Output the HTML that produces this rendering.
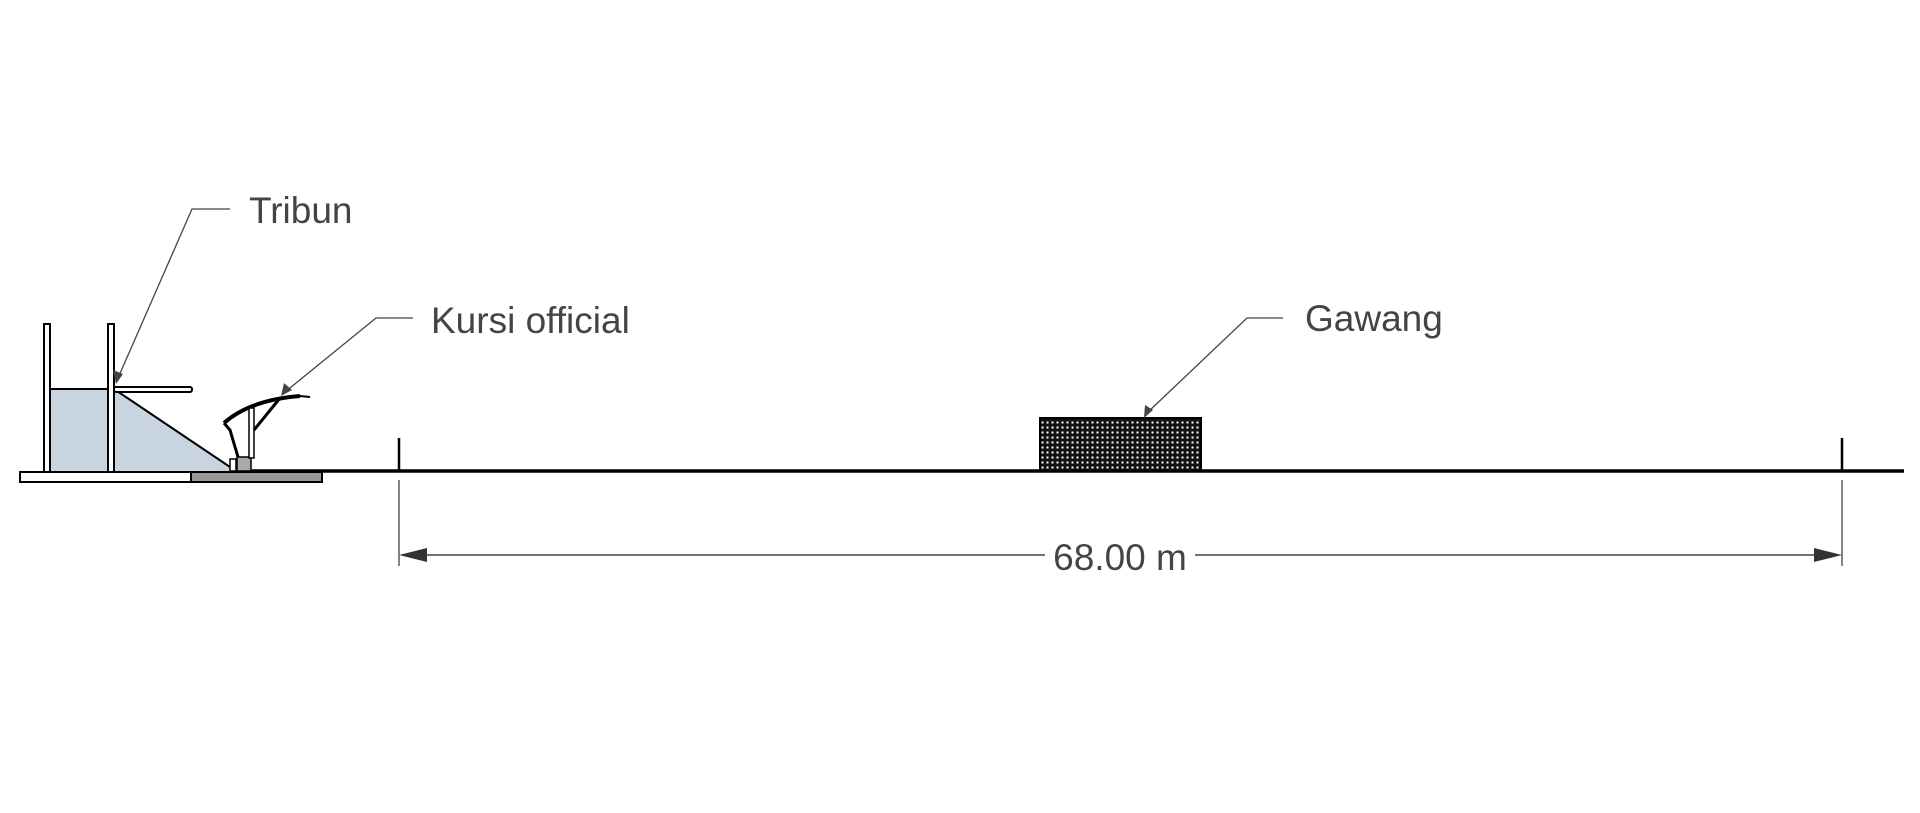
<!DOCTYPE html>
<html><head><meta charset="utf-8"><style>
html,body{margin:0;padding:0;background:#fff;}
svg{display:block;}
text{font-family:"Liberation Sans",sans-serif;fill:#444;}
</style></head><body>
<svg width="1920" height="813" viewBox="0 0 1920 813" xmlns="http://www.w3.org/2000/svg">
<defs>
<pattern id="net" width="5" height="5" patternUnits="userSpaceOnUse">
<rect width="5" height="5" fill="#111"/><rect x="1.5" y="1.5" width="2" height="2" fill="#fff"/>
</pattern>
</defs>
<!-- ground -->
<line x1="191" y1="471" x2="1904" y2="471" stroke="#000" stroke-width="3.5"/>
<!-- slab -->
<rect x="20" y="472" width="171" height="10" fill="#fff" stroke="#000" stroke-width="2"/>
<rect x="191" y="472" width="131" height="10" fill="#999" stroke="#000" stroke-width="2"/>
<!-- tribun fill -->
<path d="M49 389 L114 389 L230 467 L230 471 L49 471 Z" fill="#c8d4e0"/>
<line x1="114" y1="389" x2="230" y2="467" stroke="#000" stroke-width="2"/>
<line x1="49" y1="389" x2="114" y2="389" stroke="#000" stroke-width="2"/>
<!-- posts -->
<rect x="44" y="324" width="6" height="148" fill="#fff" stroke="#000" stroke-width="2"/>
<rect x="108" y="324" width="6" height="148" fill="#fff" stroke="#000" stroke-width="2"/>
<rect x="114" y="387" width="78" height="5" rx="2" fill="#fff" stroke="#000" stroke-width="2"/>
<!-- chair -->
<rect x="230" y="459" width="6" height="12" fill="#fff" stroke="#000" stroke-width="1.5"/>
<rect x="237" y="457" width="14" height="14" fill="#aaa" stroke="#000" stroke-width="1.5"/>
<path d="M224 423 Q250 400 300 396" fill="none" stroke="#000" stroke-width="4"/>
<path d="M300 396 L310 397" stroke="#000" stroke-width="2"/>
<path d="M224 423 L230 430 L238 457" fill="none" stroke="#000" stroke-width="3"/>
<rect x="249" y="408" width="5" height="50" fill="#fff" stroke="#000" stroke-width="1.5"/>
<line x1="254" y1="430" x2="280" y2="398" stroke="#000" stroke-width="3"/>
<!-- goal -->
<rect x="1040" y="418" width="161" height="53" fill="url(#net)" stroke="#000" stroke-width="2"/>
<!-- tick posts -->
<line x1="399" y1="438" x2="399" y2="471" stroke="#000" stroke-width="2.5"/>
<line x1="1842" y1="438" x2="1842" y2="471" stroke="#000" stroke-width="2.5"/>
<!-- dimension -->
<line x1="399" y1="480" x2="399" y2="566" stroke="#333" stroke-width="1.2"/>
<line x1="1842" y1="480" x2="1842" y2="566" stroke="#333" stroke-width="1.2"/>
<line x1="405" y1="555" x2="1045" y2="555" stroke="#444" stroke-width="1.5"/>
<line x1="1195" y1="555" x2="1836" y2="555" stroke="#444" stroke-width="1.5"/>
<polygon points="399,555 427,548 427,562" fill="#333"/>
<polygon points="1842,555 1814,548 1814,562" fill="#333"/>
<text x="1120" y="570" font-size="37" text-anchor="middle">68.00 m</text>
<!-- leaders -->
<g stroke="#444" stroke-width="1.3" fill="none">
<polyline points="230,209 192,209 118,378"/>
<polyline points="413,318 376,318 285,392"/>
<polyline points="1283,318 1247,318 1148,412"/>
</g>
<polygon points="116,384 113,370 123,374" fill="#444"/>
<polygon points="281,396 284,383 292,390" fill="#444"/>
<polygon points="1144,418 1145,405 1153,410" fill="#444"/>
<text x="249" y="223" font-size="37">Tribun</text>
<text x="431" y="333" font-size="37">Kursi official</text>
<text x="1305" y="331" font-size="37">Gawang</text>
</svg>
</body></html>
